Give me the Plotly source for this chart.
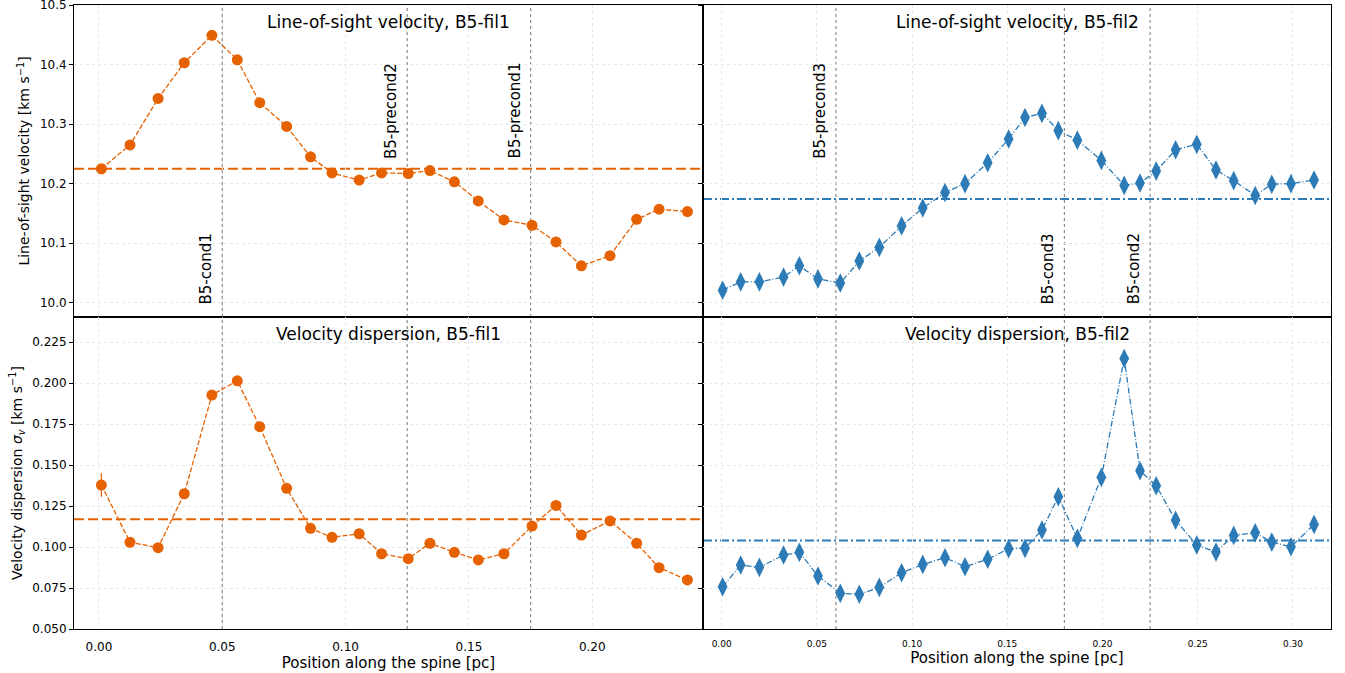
import plotly.graph_objects as go

# ---- data -------------------------------------------------------------
# positions along the spine [pc]
pos_fil1 = [0.0010, 0.0126, 0.0240, 0.0346, 0.0458, 0.0561, 0.0652, 0.0761,
            0.0858, 0.0945, 0.1055, 0.1146, 0.1254, 0.1342, 0.1441, 0.1538,
            0.1642, 0.1756, 0.1853, 0.1956, 0.2072, 0.2180, 0.2271, 0.2386]
pos_fil2 = [0.0005, 0.0100, 0.0198, 0.0325, 0.0408, 0.0506, 0.0623, 0.0723,
            0.0828, 0.0945, 0.1056, 0.1173, 0.1278, 0.1397, 0.1507, 0.1593,
            0.1682, 0.1768, 0.1868, 0.1994, 0.2114, 0.2197, 0.2282, 0.2384,
            0.2495, 0.2596, 0.2689, 0.2802, 0.2889, 0.2990, 0.3111]

# line-of-sight velocity [km/s]
vlsr_fil1 = [10.225, 10.265, 10.343, 10.403, 10.449, 10.408, 10.336, 10.296,
             10.245, 10.218, 10.206, 10.218, 10.217, 10.222, 10.203, 10.171,
             10.139, 10.130, 10.102, 10.062, 10.079, 10.140, 10.157, 10.153]
vlsr_fil2 = [10.021, 10.035, 10.035, 10.043, 10.062, 10.040, 10.033, 10.070,
             10.093, 10.129, 10.159, 10.185, 10.200, 10.235, 10.275, 10.311,
             10.318, 10.289, 10.273, 10.239, 10.197, 10.201, 10.221, 10.257,
             10.266, 10.223, 10.205, 10.180, 10.199, 10.200, 10.206]

# velocity dispersion [km/s]
sigma_fil1 = [0.1378, 0.1029, 0.0996, 0.1325, 0.1927, 0.2014, 0.1734, 0.1358,
              0.1114, 0.1059, 0.1081, 0.0959, 0.0929, 0.1023, 0.0968, 0.0921,
              0.0959, 0.1128, 0.1254, 0.1073, 0.1159, 0.1023, 0.0874, 0.0799]
sigma_fil1_err = [0.0072, 0, 0, 0, 0, 0, 0, 0, 0, 0, 0, 0,
                  0, 0, 0, 0, 0, 0, 0, 0, 0, 0, 0, 0]
sigma_fil2 = [0.0758, 0.0890, 0.0876, 0.0951, 0.0968, 0.0823, 0.0718, 0.0712,
              0.0754, 0.0843, 0.0894, 0.0935, 0.0880, 0.0925, 0.0990, 0.0992,
              0.1104, 0.1307, 0.1053, 0.1425, 0.2150, 0.1465, 0.1374, 0.1163,
              0.1012, 0.0970, 0.1071, 0.1087, 0.1030, 0.1002, 0.1138]

# mean values per filament
mean_vlsr_fil1, mean_vlsr_fil2 = 10.225, 10.174
mean_sigma_fil1, mean_sigma_fil2 = 0.117, 0.104

# cores along each filament: position, name, label base height
cores_fil1 = [(0.050, "B5-cond1", 10.0), (0.125, "B5-precond2", 10.245),
              (0.175, "B5-precond1", 10.245)]
cores_fil2 = [(0.060, "B5-precond3", 10.245), (0.180, "B5-cond3", 10.0),
              (0.225, "B5-cond2", 10.0)]

# ---- style ------------------------------------------------------------
ORANGE = "#e66101"
BLUE = "#2c7bb6"
FONT = "DejaVu Sans"
W, H = 1345, 673
ML, MR, MT, MB = 74, 14, 5, 44

fig = go.Figure()

# (xaxis, yaxis) for each panel: TL, TR, BL, BR
panels = {"TL": ("x", "y"), "TR": ("x2", "y2"), "BL": ("x3", "y3"), "BR": ("x4", "y4")}

def add_series(panel, x, y, color, symbol, size, dash, err=None):
    xa, ya = panels[panel]
    kw = {}
    if err is not None:
        kw["error_y"] = dict(type="data", array=err, color=color, thickness=1.3, width=0)
    fig.add_trace(go.Scatter(
        x=x, y=y, xaxis=xa, yaxis=ya, mode="lines+markers",
        line=dict(color=color, width=1.3, dash=dash),
        marker=dict(color=color, size=size, symbol=symbol, line=dict(width=0)),
        showlegend=False, **kw))

add_series("TL", pos_fil1, vlsr_fil1, ORANGE, "circle", 11, "5px,2px")
add_series("BL", pos_fil1, sigma_fil1, ORANGE, "circle", 11, "5px,2px", sigma_fil1_err)
add_series("TR", pos_fil2, vlsr_fil2, BLUE, "diamond-tall", 14, "6px,2px,1px,2px")
add_series("BR", pos_fil2, sigma_fil2, BLUE, "diamond-tall", 14, "6px,2px,1px,2px")

shapes = []
annotations = []

# mean lines
for panel, val, color, dash in [("TL", mean_vlsr_fil1, ORANGE, "10px,4px"),
                                ("BL", mean_sigma_fil1, ORANGE, "10px,4px"),
                                ("TR", mean_vlsr_fil2, BLUE, "9px,3px,2px,3px"),
                                ("BR", mean_sigma_fil2, BLUE, "9px,3px,2px,3px")]:
    xa, ya = panels[panel]
    shapes.append(dict(type="line", xref=f"{xa} domain", yref=ya, x0=0, x1=1,
                       y0=val, y1=val, layer="below",
                       line=dict(color=color, width=2, dash=dash)))

# core positions: dotted vertical lines and rotated labels
for cores, top, bot in [(cores_fil1, "TL", "BL"), (cores_fil2, "TR", "BR")]:
    for xpos, name, ylab in cores:
        for panel in (top, bot):
            xa, ya = panels[panel]
            shapes.append(dict(type="line", xref=xa, yref=f"{ya} domain",
                               x0=xpos, x1=xpos, y0=0, y1=1, layer="below",
                               line=dict(color="#8c8c8c", width=1.2, dash="dot")))
        xa, ya = panels[top]
        annotations.append(dict(x=xpos, y=ylab, xref=xa, yref=ya, text=name,
                                textangle=-90, showarrow=False, xanchor="center",
                                yanchor="bottom", xshift=-16, yshift=-4,
                                font=dict(family=FONT, size=15, color="black")))

# panel titles
titles = {"TL": "Line-of-sight velocity, B5-fil1", "TR": "Line-of-sight velocity, B5-fil2",
          "BL": "Velocity dispersion, B5-fil1", "BR": "Velocity dispersion, B5-fil2"}
for panel, t in titles.items():
    xa, ya = panels[panel]
    annotations.append(dict(x=0.5, y=1, xref=f"{xa} domain", yref=f"{ya} domain",
                            text=t, showarrow=False, xanchor="center", yanchor="top",
                            yshift=-5, font=dict(family=FONT, size=17, color="black")))

# ---- axes -------------------------------------------------------------
pw = W - ML - MR
ph = H - MT - MB
xsplit = (703 - ML) / pw
ysplit = (629 - 317) / ph
xl, xr = [0, xsplit], [xsplit, 1]
yb, yt = [0, ysplit], [ysplit, 1]

base = dict(showline=True, linecolor="black", linewidth=1, mirror=True,
            showgrid=True, gridcolor="#e8e8e8", griddash="dot", gridwidth=1,
            zeroline=False, automargin=False, ticklabeloverflow="allow",
            tickfont=dict(family=FONT, size=12, color="black"))
yax = dict(base, ticks="outside", ticklen=4, tickcolor="black")
# x ticks are invisible; their length only spaces the labels from the axis
xax = dict(base, ticks="outside", ticklen=7, tickcolor="rgba(0,0,0,0)")

xrange_fil1 = [-0.0101, 0.2449]
xrange_fil2 = [-0.0098, 0.3200]
vrange = [9.976, 10.5]
srange = [0.05, 0.2403]

xtitle = dict(text="Position along the spine [pc]",
              font=dict(family=FONT, size=15, color="black"), standoff=1)

fig.update_layout(
    width=W, height=H, margin=dict(l=ML, r=MR, t=MT, b=MB, pad=0),
    paper_bgcolor="white", plot_bgcolor="white",
    font=dict(family=FONT, color="black"),
    xaxis=dict(xax, domain=xl, anchor="y", range=xrange_fil1, matches="x3",
               showticklabels=False, dtick=0.05, ticks=""),
    yaxis=dict(yax, domain=yt, anchor="x", range=vrange, dtick=0.1, tickformat=".1f",
               title=dict(text="Line-of-sight velocity [km s<sup>−1</sup>]",
                          font=dict(family=FONT, size=14, color="black"), standoff=6)),
    xaxis2=dict(xax, domain=xr, anchor="y2", range=xrange_fil2, matches="x4",
                showticklabels=False, dtick=0.05, ticks=""),
    yaxis2=dict(yax, domain=yt, anchor="x2", range=vrange, matches="y", dtick=0.1,
                showticklabels=False),
    xaxis3=dict(xax, domain=xl, anchor="y3", range=xrange_fil1, dtick=0.05,
                tickformat=".2f", title=xtitle),
    yaxis3=dict(yax, domain=yb, anchor="x3", range=srange, dtick=0.025, tick0=0.05,
                tickformat=".3f",
                title=dict(text="Velocity dispersion <i>σ<sub>v</sub></i> [km s<sup>−1</sup>]",
                           font=dict(family=FONT, size=14, color="black"), standoff=6)),
    xaxis4=dict(xax, domain=xr, anchor="y4", range=xrange_fil2, dtick=0.05,
                tickformat=".2f", title=xtitle, ticklen=6,
                tickfont=dict(family=FONT, size=9, color="black")),
    yaxis4=dict(yax, domain=yb, anchor="x4", range=srange, matches="y3", dtick=0.025,
                tick0=0.05, showticklabels=False),
    shapes=shapes, annotations=annotations,
)

fig.write_html("out.html")
